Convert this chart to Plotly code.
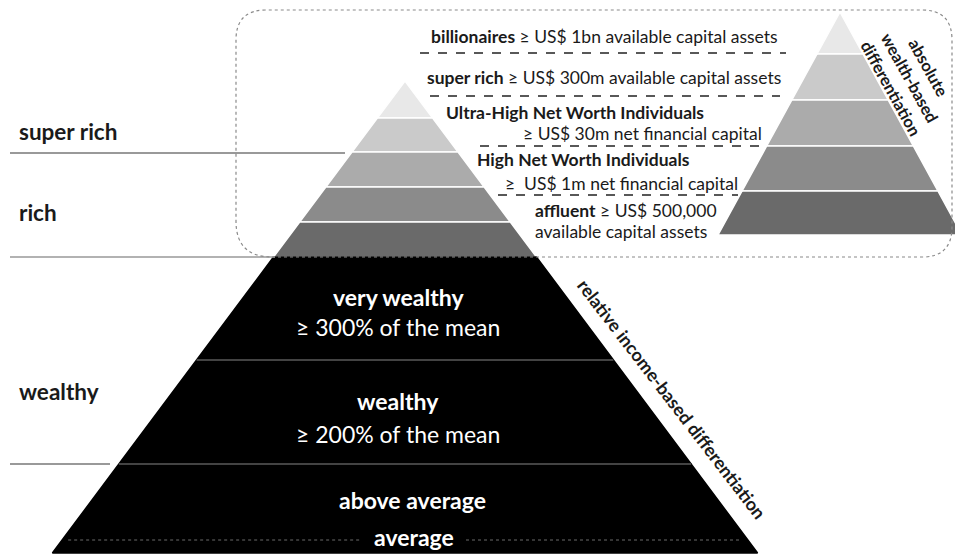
import plotly.graph_objects as go

# ---------------- data ----------------
# income (relative) pyramid tiers, top to bottom
income_tier_names = ["", "", "", "", "", "very wealthy", "wealthy", "above average"]
income_tier_sub = ["", "", "", "", "", "≥ 300% of the mean", "≥ 200% of the mean", "average"]
income_tier_edges = [81, 118, 152, 187, 222, 257, 360, 464, 553]
income_tier_fill = ["#e8e8e8", "#cacaca", "#ababab", "#8b8b8b", "#6a6a6a", "#000000", "#000000", "#000000"]

# wealth (absolute) pyramid tiers, top to bottom
wealth_tier_edges = [12, 54, 100, 146, 191, 235]
wealth_tier_fill = ["#e8e8e8", "#cacaca", "#ababab", "#8b8b8b", "#6a6a6a"]

# wealth thresholds text
wealth_bold = ["billionaires", "super rich", "Ultra-High Net Worth Individuals",
               "High Net Worth Individuals", "affluent"]
wealth_rest = [" ≥ US$ 1bn available capital assets", " ≥ US$ 300m available capital assets",
               "≥ US$ 30m net financial capital", "≥  US$ 1m net financial capital",
               " ≥ US$ 500,000"]

# left-hand category labels
side_labels = ["super rich", "rich", "wealthy"]

# ---------------- geometry ----------------
W, H = 955, 556
L_CX, L_SLOPE = 405, 0.747      # left pyramid centre / half-width per px
R_CX, R_SLOPE = 840, 0.547      # right pyramid
L_APEX = income_tier_edges[0]
R_APEX = wealth_tier_edges[0]

FONT = "Lato"
DARK = "#1a1a1a"

fig = go.Figure()


def half(y, apex, slope):
    return (y - apex) * slope


def add_tiers(edges, fills, cx, slope, apex, outline):
    for i, col in enumerate(fills):
        y0, y1 = edges[i], edges[i + 1]
        h0, h1 = half(y0, apex, slope), half(y1, apex, slope)
        fig.add_trace(go.Scatter(
            x=[cx - h0, cx + h0, cx + h1, cx - h1, cx - h0],
            y=[y0, y0, y1, y1, y0],
            mode="lines", fill="toself", fillcolor=col,
            line=dict(color=outline if col != "#000000" else col, width=1.5),
            hoverinfo="skip", showlegend=False))


add_tiers(income_tier_edges, income_tier_fill, L_CX, L_SLOPE, L_APEX, "#ffffff")
add_tiers(wealth_tier_edges, wealth_tier_fill, R_CX, R_SLOPE, R_APEX, "#ffffff")

# grey separators inside black part
for y in income_tier_edges[6:8]:
    h = half(y, L_APEX, L_SLOPE)
    fig.add_shape(type="line", x0=L_CX - h, x1=L_CX + h, y0=y, y1=y,
                  line=dict(color="#5a5a5a", width=1.5))

# dotted "average" line
yb = 540
hb = half(yb, L_APEX, L_SLOPE) - 6
fig.add_shape(type="line", x0=L_CX - hb, x1=362, y0=yb, y1=yb,
              line=dict(color="#6a6a6a", width=1.2, dash="dot"))
fig.add_shape(type="line", x0=466, x1=L_CX + hb, y0=yb, y1=yb,
              line=dict(color="#6a6a6a", width=1.2, dash="dot"))

# left separator lines
fig.add_shape(type="line", x0=10, x1=345, y0=153, y1=153, line=dict(color="#777777", width=1.5))
fig.add_shape(type="line", x0=10, x1=275, y0=257, y1=257, line=dict(color="#999999", width=1.5))
fig.add_shape(type="line", x0=10, x1=110, y0=464, y1=464, line=dict(color="#777777", width=1.5))

# rounded dotted box
bx0, by0, bx1, by1, r0, r1 = 236, 10, 952, 257, 36, 30
path = (f"M {bx0+r0},{by1} L {bx1-r1},{by1} Q {bx1},{by1} {bx1},{by1-r1} "
        f"L {bx1},{by0+r1} Q {bx1},{by0} {bx1-r1},{by0} L {bx0+r1},{by0} "
        f"Q {bx0},{by0} {bx0},{by0+r1} L {bx0},{by1-r0} Q {bx0},{by1} {bx0+r0},{by1} Z")
fig.add_shape(type="path", path=path, line=dict(color="#8a8a8a", width=1.2, dash="dot"))

# dashed separators between wealth texts
for (x0, x1, y) in [(420, 786, 53), (430, 780, 96), (480, 762, 146), (498, 738, 195)]:
    fig.add_shape(type="line", x0=x0, x1=x1, y0=y, y1=y,
                  line=dict(color="#222222", width=1.6, dash="dash"))


def ann(text, x, y, size, color=DARK, xanchor="center", angle=0, align="center"):
    fig.add_annotation(x=x, y=y, xref="x", yref="y", text=text, showarrow=False,
                       xanchor=xanchor, yanchor="middle", textangle=angle, align=align,
                       font=dict(family=FONT, size=size, color=color))


BOX = 17.5
# wealth texts
ann(f"<b>{wealth_bold[0]}</b>{wealth_rest[0]}", 604, 36, BOX)
ann(f"<b>{wealth_bold[1]}</b>{wealth_rest[1]}", 604, 77, BOX)
ann(f"<b>{wealth_bold[2]}</b>", 444, 112, BOX, xanchor="left")
ann(wealth_rest[2], 764, 133, BOX, xanchor="right")
ann(f"<b>{wealth_bold[3]}</b>", 475, 159, BOX, xanchor="left")
ann(wealth_rest[3], 740, 183, BOX, xanchor="right")
ann(f"<b>{wealth_bold[4]}</b>{wealth_rest[4]}", 533, 210, BOX, xanchor="left")
ann("available capital assets", 533, 231, BOX, xanchor="left")

# income texts (white on black)
WT = 23
ann(f"<b>{income_tier_names[5]}</b>", 398, 297, WT, color="white")
ann(income_tier_sub[5], 398, 327, WT, color="white")
ann(f"<b>{income_tier_names[6]}</b>", 398, 401, WT, color="white")
ann(income_tier_sub[6], 398, 434, WT, color="white")
ann(f"<b>{income_tier_names[7]}</b>", 412, 500, WT, color="white")
ann(f"<b>{income_tier_sub[7]}</b>", 414, 537, WT, color="white")

# side labels
ann(f"<b>{side_labels[0]}</b>", 17, 131, 22.5, xanchor="left")
ann(f"<b>{side_labels[1]}</b>", 17, 212, 22.5, xanchor="left")
ann(f"<b>{side_labels[2]}</b>", 17, 391, 22.5, xanchor="left")

# rotated labels
ann("<b>relative income-based differentiation</b>", 672, 399, 18, angle=52.5)
ann("<b>absolute<br>wealth-based<br>differentiation</b>", 910, 78, 16.5, angle=61)

fig.update_layout(
    width=W, height=H, margin=dict(l=0, r=0, t=0, b=0),
    paper_bgcolor="white", plot_bgcolor="white",
    xaxis=dict(range=[0, W], visible=False, fixedrange=True),
    yaxis=dict(range=[H, 0], visible=False, fixedrange=True),
    showlegend=False,
)

fig.write_html("out.html", config={"displayModeBar": False},
               post_script="document.body.style.margin='0';")
